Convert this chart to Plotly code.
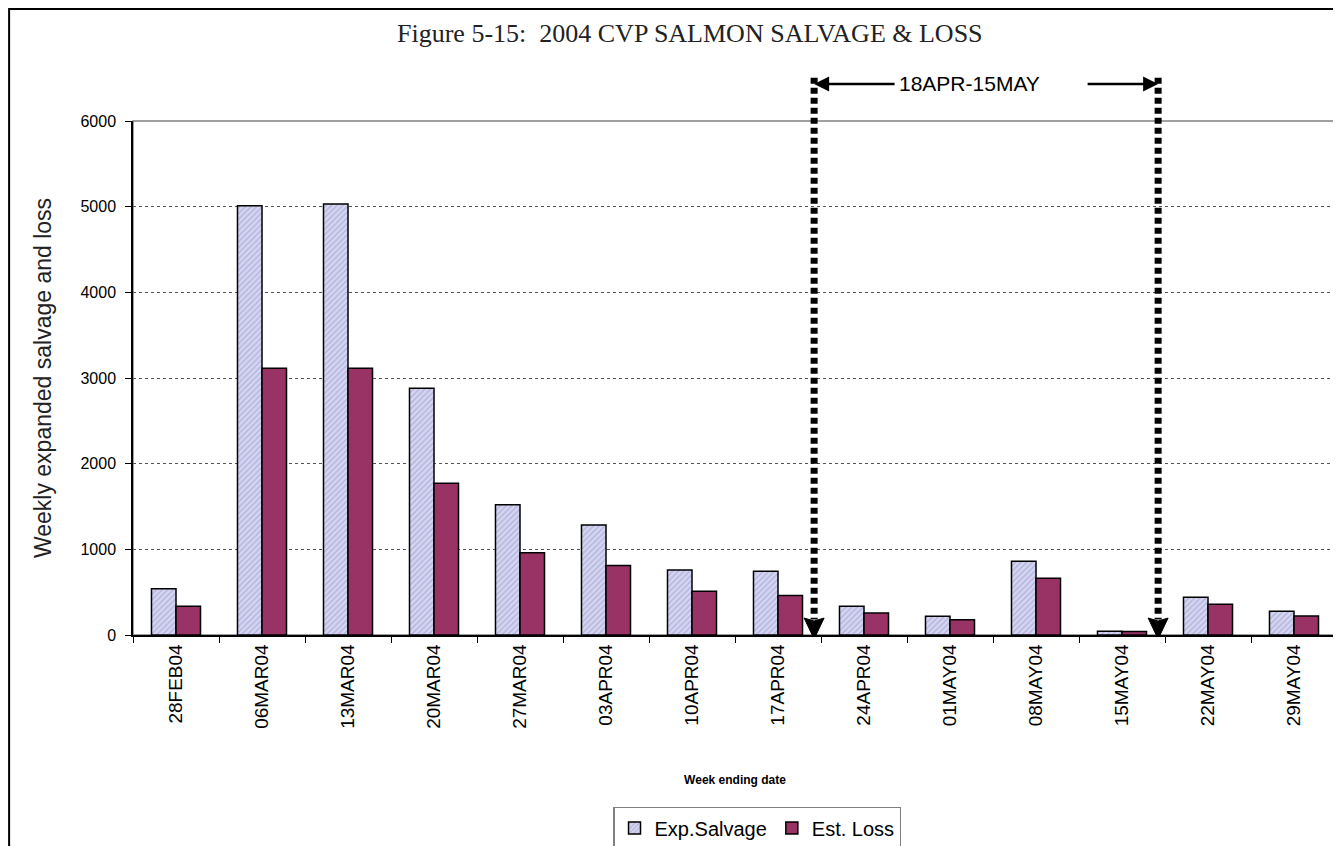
import plotly.graph_objects as go

weeks = ["28FEB04", "06MAR04", "13MAR04", "20MAR04", "27MAR04", "03APR04", "10APR04",
         "17APR04", "24APR04", "01MAY04", "08MAY04", "15MAY04", "22MAY04", "29MAY04"]
exp_salvage = [540, 5010, 5030, 2880, 1520, 1285, 760, 745, 335, 218, 860, 45, 440, 276]
est_loss = [335, 3115, 3115, 1770, 960, 812, 510, 460, 256, 178, 663, 41, 358, 221]

period_label = "18APR-15MAY"
period_bounds = [7.42, 11.42]  # category positions of the dotted markers

fig = go.Figure()
fig.add_bar(
    x=weeks, y=exp_salvage, name="Exp.Salvage",
    marker=dict(
        color="#d4d4f4",
        line=dict(color="black", width=1.5),
        pattern=dict(shape="/", fgcolor="#8c8cb0", bgcolor="#d4d4f4", size=4, solidity=0.3),
    ),
)
fig.add_bar(
    x=weeks, y=est_loss, name="Est. Loss",
    marker=dict(color="#993366", line=dict(color="black", width=1.5)),
)

# outer chart frame (top/left edges of the page) and plot-area border
fig.add_shape(type="rect", xref="paper", yref="paper", x0=-0.1029, x1=1.01, y0=-0.45, y1=1.2179,
              line=dict(color="black", width=2), layer="below")
fig.add_shape(type="rect", xref="paper", yref="paper", x0=0, x1=1, y0=0, y1=1,
              line=dict(color="#808080", width=1.5), layer="below")

for xb in period_bounds:
    fig.add_shape(type="line", xref="x", yref="paper", x0=xb, x1=xb, y0=1.084, y1=0.03,
                  line=dict(color="black", width=7, dash="6px,4px"))
    fig.add_shape(type="path", xref="x", yref="y", xsizemode="pixel", ysizemode="pixel",
                  xanchor=xb, yanchor=0, path="M-10,17 L0,14 L10,17 L0,-4 Z",
                  fillcolor="black", line=dict(color="black", width=1))

fig.add_annotation(x=period_bounds[0], y=1.072, xref="x", yref="paper", text="",
                   showarrow=True, ax=82, ay=0, arrowhead=2, arrowsize=1.2, arrowwidth=2.5,
                   arrowcolor="black")
fig.add_annotation(x=period_bounds[1], y=1.072, xref="x", yref="paper", text="",
                   showarrow=True, ax=-72, ay=0, arrowhead=2, arrowsize=1.2, arrowwidth=2.5,
                   arrowcolor="black")
fig.add_annotation(x=9.23, y=1.072, xref="x", yref="paper", yanchor="middle",
                   text=period_label, showarrow=False,
                   font=dict(family="Arial", size=21, color="black"))

fig.add_annotation(x=0.4626, y=1.171, xref="paper", yref="paper", yanchor="middle",
                   text="Figure 5-15:  2004 CVP SALMON SALVAGE &amp; LOSS", showarrow=False,
                   font=dict(family="Liberation Serif", size=26, color="#222222"))

# page body has an 8px margin, so the figure is shrunk by that amount
fig.update_layout(
    width=1333, height=838,
    margin=dict(l=125, r=4, t=113, b=211, autoexpand=False),
    paper_bgcolor="white", plot_bgcolor="white",
    barmode="group", bargap=0.43, bargroupgap=0,
    font=dict(family="Arial", color="black"),
    showlegend=True,
    legend=dict(orientation="h", x=0.3987, y=-0.3346, xanchor="left", yanchor="top",
                bordercolor="#808080", borderwidth=1.5, font=dict(size=20),
                itemwidth=30, tracegroupgap=0),
    xaxis=dict(
        title=dict(text="<b>Week ending date</b>", font=dict(size=12), standoff=48),
        tickangle=-90, tickfont=dict(size=19), ticks="outside", ticklen=6, tickson="boundaries",
        tickcolor="black", showline=True, linecolor="black", linewidth=1.5,
        showgrid=False,
    ),
    yaxis=dict(
        title=dict(text="Weekly expanded salvage and loss", font=dict(size=23, color="#222222"),
                   standoff=22),
        range=[0, 6000], dtick=1000, tickfont=dict(size=16), ticks="outside", ticklen=6,
        ticklabelstandoff=6,
        tickcolor="black", showline=True, linecolor="black", linewidth=1.5,
        showgrid=True, gridcolor="#555555", gridwidth=1, griddash="dot", zeroline=False,
    ),
)

fig.write_html("out.html")
